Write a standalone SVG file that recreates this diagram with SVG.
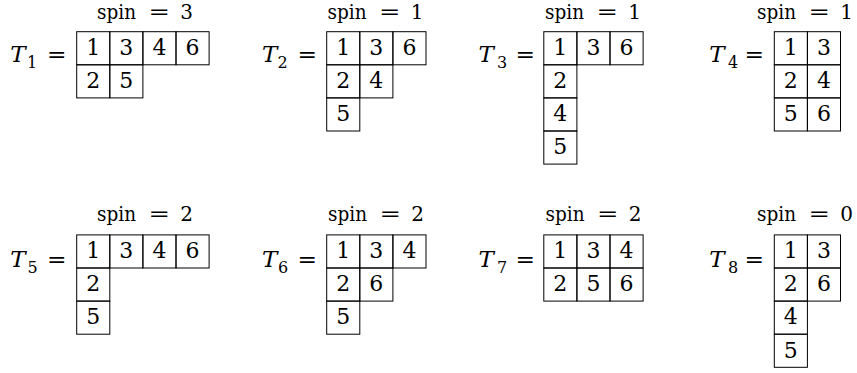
<svg xmlns="http://www.w3.org/2000/svg" width="857" height="373" viewBox="0 0 857 373">
<defs>
<style>
.c{fill:none;stroke:#000;stroke-width:1}
.d{font-size:22px;text-anchor:middle;fill:#000}
.t{font-size:23px;font-style:italic;fill:#000}
.s{font-size:16px;text-anchor:middle;fill:#000}
.e{font-size:23px;fill:#000}
.p{font-size:20px;fill:#000}
.q{font-size:20px;text-anchor:middle;fill:#000}
</style>
</defs>
<rect width="857" height="373" fill="#fff"/>
<g font-family="DejaVu Serif, serif">
<g id="T1">
<text class="p" x="97" y="18.6" textLength="39" lengthAdjust="spacingAndGlyphs">spin</text>
<text class="p" x="148.5" y="18.6" textLength="21.5" lengthAdjust="spacingAndGlyphs">=</text>
<text class="q" x="186.5" y="18.6">3</text>
<text class="t" x="10.3" y="62.3">T</text><text class="s" x="32" y="68.3">1</text>
<text class="e" x="47" y="62.3" textLength="19.5" lengthAdjust="spacingAndGlyphs">=</text>
<rect class="c" x="76.7" y="31.7" width="33.1" height="33.1"/>
<rect class="c" x="109.8" y="31.7" width="33.1" height="33.1"/>
<rect class="c" x="142.9" y="31.7" width="33.1" height="33.1"/>
<rect class="c" x="176" y="31.7" width="33.1" height="33.1"/>
<rect class="c" x="76.7" y="64.8" width="33.1" height="33.1"/>
<rect class="c" x="109.8" y="64.8" width="33.1" height="33.1"/>
<text class="d" x="93.25" y="55">1</text><text class="d" x="126.35" y="55">3</text><text class="d" x="159.45" y="55">4</text><text class="d" x="192.55" y="55">6</text>
<text class="d" x="93.25" y="88.1">2</text><text class="d" x="126.35" y="88.1">5</text>
</g>

<g id="T2">
<text class="p" x="327.5" y="18.6" textLength="39" lengthAdjust="spacingAndGlyphs">spin</text>
<text class="p" x="379" y="18.6" textLength="21.5" lengthAdjust="spacingAndGlyphs">=</text>
<text class="q" x="417" y="18.6">1</text>
<text class="t" x="261.9" y="62.3">T</text><text class="s" x="282.5" y="68.3">2</text>
<text class="e" x="297.5" y="62.3" textLength="19.5" lengthAdjust="spacingAndGlyphs">=</text>
<rect class="c" x="326.7" y="31.7" width="33.1" height="33.1"/>
<rect class="c" x="359.8" y="31.7" width="33.1" height="33.1"/>
<rect class="c" x="392.9" y="31.7" width="33.1" height="33.1"/>
<rect class="c" x="326.7" y="64.8" width="33.1" height="33.1"/>
<rect class="c" x="359.8" y="64.8" width="33.1" height="33.1"/>
<rect class="c" x="326.7" y="97.9" width="33.1" height="33.1"/>
<text class="d" x="343.25" y="55">1</text><text class="d" x="376.35" y="55">3</text><text class="d" x="409.45" y="55">6</text>
<text class="d" x="343.25" y="88.1">2</text><text class="d" x="376.35" y="88.1">4</text>
<text class="d" x="343.25" y="121.2">5</text>
</g>

<g id="T3">
<text class="p" x="545" y="18.6" textLength="39" lengthAdjust="spacingAndGlyphs">spin</text>
<text class="p" x="596.5" y="18.6" textLength="21.5" lengthAdjust="spacingAndGlyphs">=</text>
<text class="q" x="634.5" y="18.6">1</text>
<text class="t" x="478.6" y="62.3">T</text><text class="s" x="502" y="68.3">3</text>
<text class="e" x="515.5" y="62.3" textLength="19.5" lengthAdjust="spacingAndGlyphs">=</text>
<rect class="c" x="543.8" y="31.7" width="33.1" height="33.1"/>
<rect class="c" x="576.9" y="31.7" width="33.1" height="33.1"/>
<rect class="c" x="610" y="31.7" width="33.1" height="33.1"/>
<rect class="c" x="543.8" y="64.8" width="33.1" height="33.1"/>
<rect class="c" x="543.8" y="97.9" width="33.1" height="33.1"/>
<rect class="c" x="543.8" y="131" width="33.1" height="33.1"/>
<text class="d" x="560.35" y="55">1</text><text class="d" x="593.45" y="55">3</text><text class="d" x="626.55" y="55">6</text>
<text class="d" x="560.35" y="88.1">2</text>
<text class="d" x="560.35" y="121.2">4</text>
<text class="d" x="560.35" y="154.3">5</text>
</g>

<g id="T4">
<text class="p" x="757" y="18.6" textLength="39" lengthAdjust="spacingAndGlyphs">spin</text>
<text class="p" x="808.5" y="18.6" textLength="21.5" lengthAdjust="spacingAndGlyphs">=</text>
<text class="q" x="846.5" y="18.6">1</text>
<text class="t" x="709.3" y="62.3">T</text><text class="s" x="733" y="68.3">4</text>
<text class="e" x="744.5" y="62.3" textLength="19.5" lengthAdjust="spacingAndGlyphs">=</text>
<rect class="c" x="774.3" y="31.7" width="33.1" height="33.1"/>
<rect class="c" x="807.4" y="31.7" width="33.1" height="33.1"/>
<rect class="c" x="774.3" y="64.8" width="33.1" height="33.1"/>
<rect class="c" x="807.4" y="64.8" width="33.1" height="33.1"/>
<rect class="c" x="774.3" y="97.9" width="33.1" height="33.1"/>
<rect class="c" x="807.4" y="97.9" width="33.1" height="33.1"/>
<text class="d" x="790.85" y="55">1</text><text class="d" x="823.95" y="55">3</text>
<text class="d" x="790.85" y="88.1">2</text><text class="d" x="823.95" y="88.1">4</text>
<text class="d" x="790.85" y="121.2">5</text><text class="d" x="823.95" y="121.2">6</text>
</g>

<g id="T5">
<text class="p" x="97" y="220.7" textLength="39" lengthAdjust="spacingAndGlyphs">spin</text>
<text class="p" x="148.5" y="220.7" textLength="21.5" lengthAdjust="spacingAndGlyphs">=</text>
<text class="q" x="186.5" y="220.7">2</text>
<text class="t" x="10.3" y="267.3">T</text><text class="s" x="32.5" y="273.3">5</text>
<text class="e" x="47" y="267.3" textLength="19.5" lengthAdjust="spacingAndGlyphs">=</text>
<rect class="c" x="76.7" y="234.9" width="33.1" height="33.1"/>
<rect class="c" x="109.8" y="234.9" width="33.1" height="33.1"/>
<rect class="c" x="142.9" y="234.9" width="33.1" height="33.1"/>
<rect class="c" x="176" y="234.9" width="33.1" height="33.1"/>
<rect class="c" x="76.7" y="268" width="33.1" height="33.1"/>
<rect class="c" x="76.7" y="301.1" width="33.1" height="33.1"/>
<text class="d" x="93.25" y="258.2">1</text><text class="d" x="126.35" y="258.2">3</text><text class="d" x="159.45" y="258.2">4</text><text class="d" x="192.55" y="258.2">6</text>
<text class="d" x="93.25" y="291.3">2</text>
<text class="d" x="93.25" y="324.4">5</text>
</g>

<g id="T6">
<text class="p" x="328" y="220.7" textLength="39" lengthAdjust="spacingAndGlyphs">spin</text>
<text class="p" x="379.5" y="220.7" textLength="21.5" lengthAdjust="spacingAndGlyphs">=</text>
<text class="q" x="417.5" y="220.7">2</text>
<text class="t" x="261.9" y="267.3">T</text><text class="s" x="283" y="273.3">6</text>
<text class="e" x="297.5" y="267.3" textLength="19.5" lengthAdjust="spacingAndGlyphs">=</text>
<rect class="c" x="326.7" y="234.9" width="33.1" height="33.1"/>
<rect class="c" x="359.8" y="234.9" width="33.1" height="33.1"/>
<rect class="c" x="392.9" y="234.9" width="33.1" height="33.1"/>
<rect class="c" x="326.7" y="268" width="33.1" height="33.1"/>
<rect class="c" x="359.8" y="268" width="33.1" height="33.1"/>
<rect class="c" x="326.7" y="301.1" width="33.1" height="33.1"/>
<text class="d" x="343.25" y="258.2">1</text><text class="d" x="376.35" y="258.2">3</text><text class="d" x="409.45" y="258.2">4</text>
<text class="d" x="343.25" y="291.3">2</text><text class="d" x="376.35" y="291.3">6</text>
<text class="d" x="343.25" y="324.4">5</text>
</g>

<g id="T7">
<text class="p" x="545.5" y="220.7" textLength="39" lengthAdjust="spacingAndGlyphs">spin</text>
<text class="p" x="597" y="220.7" textLength="21.5" lengthAdjust="spacingAndGlyphs">=</text>
<text class="q" x="635" y="220.7">2</text>
<text class="t" x="478.6" y="267.3">T</text><text class="s" x="502" y="273.3">7</text>
<text class="e" x="515.5" y="267.3" textLength="19.5" lengthAdjust="spacingAndGlyphs">=</text>
<rect class="c" x="543.8" y="234.9" width="33.1" height="33.1"/>
<rect class="c" x="576.9" y="234.9" width="33.1" height="33.1"/>
<rect class="c" x="610" y="234.9" width="33.1" height="33.1"/>
<rect class="c" x="543.8" y="268" width="33.1" height="33.1"/>
<rect class="c" x="576.9" y="268" width="33.1" height="33.1"/>
<rect class="c" x="610" y="268" width="33.1" height="33.1"/>
<text class="d" x="560.35" y="258.2">1</text><text class="d" x="593.45" y="258.2">3</text><text class="d" x="626.55" y="258.2">4</text>
<text class="d" x="560.35" y="291.3">2</text><text class="d" x="593.45" y="291.3">5</text><text class="d" x="626.55" y="291.3">6</text>
</g>

<g id="T8">
<text class="p" x="757" y="220.7" textLength="39" lengthAdjust="spacingAndGlyphs">spin</text>
<text class="p" x="808.5" y="220.7" textLength="21.5" lengthAdjust="spacingAndGlyphs">=</text>
<text class="q" x="846.5" y="220.7">0</text>
<text class="t" x="709.3" y="267.3">T</text><text class="s" x="733" y="273.3">8</text>
<text class="e" x="744.5" y="267.3" textLength="19.5" lengthAdjust="spacingAndGlyphs">=</text>
<rect class="c" x="774.3" y="234.9" width="33.1" height="33.1"/>
<rect class="c" x="807.4" y="234.9" width="33.1" height="33.1"/>
<rect class="c" x="774.3" y="268" width="33.1" height="33.1"/>
<rect class="c" x="807.4" y="268" width="33.1" height="33.1"/>
<rect class="c" x="774.3" y="301.1" width="33.1" height="33.1"/>
<rect class="c" x="774.3" y="334.2" width="33.1" height="33.1"/>
<text class="d" x="790.85" y="258.2">1</text><text class="d" x="823.95" y="258.2">3</text>
<text class="d" x="790.85" y="291.3">2</text><text class="d" x="823.95" y="291.3">6</text>
<text class="d" x="790.85" y="324.4">4</text>
<text class="d" x="790.85" y="357.5">5</text>
</g>
</g>
</svg>
